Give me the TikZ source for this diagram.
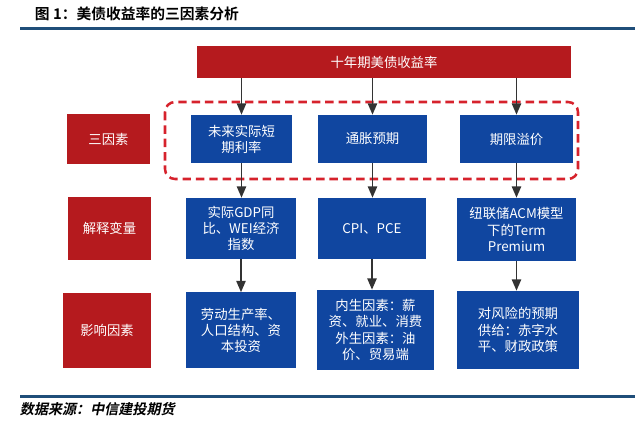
\documentclass[tikz,border=0pt]{standalone}
\usepackage{fontspec}
\setmainfont{Noto Sans CJK SC}[BoldFont={Noto Sans CJK SC Bold}]
\newfontfamily\srcfont[FakeSlant=0.2]{Noto Sans CJK SC Bold}
\usetikzlibrary{arrows.meta}

\definecolor{boxred}{RGB}{181,26,30}
\definecolor{boxblue}{RGB}{16,70,160}
\definecolor{dashred}{RGB}{214,34,44}
\definecolor{ruleblue}{RGB}{31,78,121}
\definecolor{arrowgray}{RGB}{51,51,51}

\newlength\pxu
\setlength\pxu{0.025cm}

\tikzset{
	redbox/.style={fill=boxred, text=white, align=center, inner sep=0pt,
		font=\fontsize{9.5}{11.5}\selectfont},
	bluebox/.style={fill=boxblue, text=white, align=center, inner sep=0pt,
		font=\fontsize{9.5}{11.5}\selectfont},
	link/.style={-{Triangle[width=6.5pt,length=8pt]}, arrowgray, line width=1.3pt},
}

\begin{document}
\begin{tikzpicture}[x=0.025cm, y=-0.025cm]
			\useasboundingbox (0,0) rectangle (640,426);

			% Заголовок и линии
			\node[anchor=west, font=\bfseries\fontsize{10.5}{12}\selectfont] (title) at (30,14) {图 1：美债收益率的三因素分析};
			\draw[ruleblue, line width=2pt] (20,28.5) -- (635,28.5);
			\draw[ruleblue, line width=2pt] (20,396.5) -- (635,396.5);
			\node[anchor=west, font=\srcfont\fontsize{10}{12}\selectfont] (src) at (15,409.5) {数据来源：中信建投期货};

			% Верхний блок
			\node[redbox, minimum width=374\pxu, minimum height=32\pxu] (top) at (384,62) {十年期美债收益率};

			% Три фактора
			\node[redbox, minimum width=83\pxu, minimum height=50\pxu] (l1) at (108.5,139) {三因素};
			\node[bluebox, minimum width=101\pxu, minimum height=48\pxu] (f1) at (241.5,139) {未来实际短\\期利率};
			\node[bluebox, minimum width=109\pxu, minimum height=48\pxu] (f2) at (372.5,139) {通胀预期};
			\node[bluebox, minimum width=113\pxu, minimum height=48\pxu] (f3) at (516.5,139) {期限溢价};

			% Объясняющие переменные
			\node[redbox, minimum width=83\pxu, minimum height=63\pxu] (l2) at (109.5,228.5) {解释变量};
			\node[bluebox, minimum width=110\pxu, minimum height=61\pxu] (v1) at (241,228.5) {实际GDP同\\比、WEI经济\\指数};
			\node[bluebox, minimum width=108\pxu, minimum height=61\pxu] (v2) at (372,228.5) {CPI、PCE};
			\node[bluebox, minimum width=119\pxu, minimum height=63\pxu] (v3) at (516.5,229.5) {纽联储ACM模型\\下的Term\\Premium};

			% Влияющие факторы
			\node[redbox, minimum width=88\pxu, minimum height=75\pxu] (l3) at (107,330.5) {影响因素};
			\node[bluebox, minimum width=110\pxu, minimum height=76\pxu] (d1) at (241,330.5) {劳动生产率、\\人口结构、资\\本投资};
			\node[bluebox, minimum width=117\pxu, minimum height=80\pxu] (d2) at (375.5,330) {内生因素：薪\\资、就业、消费\\外生因素：油\\价、贸易端};
			\node[bluebox, minimum width=122\pxu, minimum height=78\pxu] (d3) at (518,330) {对风险的预期\\供给：赤字水\\平、财政政策};

			% Пунктирная рамка
			\draw[dashred, line width=1.8pt, dash pattern=on 6pt off 3.5pt, rounded corners=10\pxu] (165,102) rectangle (578,179);

			% Стрелки
			\foreach \c in {1,2,3} {
				\draw[link] (top.south -| f\c.north) -- (f\c.north);
				\draw[link] (f\c.south) -- (v\c.north -| f\c.south);
				\draw[link] (v\c.south) -- (d\c.north -| v\c.south);
			}
		\end{tikzpicture}
\end{document}
